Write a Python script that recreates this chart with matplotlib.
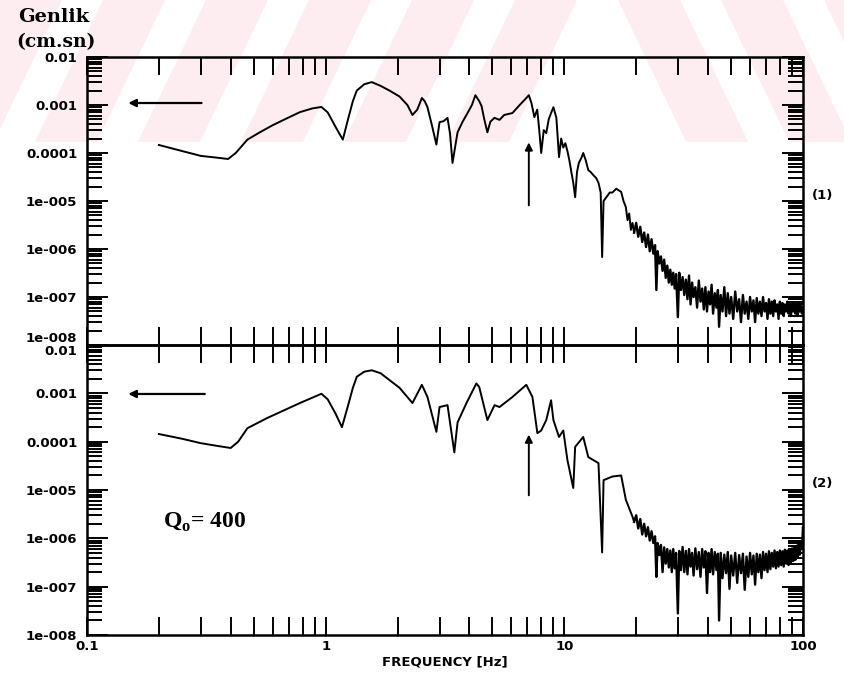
import numpy as np
import matplotlib
matplotlib.use('Agg')
import matplotlib.pyplot as plt
from matplotlib.ticker import LogLocator, NullFormatter
from matplotlib.patches import Polygon, Rectangle

plt.rcParams['mathtext.fontset'] = 'custom'
plt.rcParams['mathtext.rm'] = 'Liberation Serif:bold'
plt.rcParams['mathtext.bf'] = 'Liberation Serif:bold'

# ---------------- DATA ----------------
# panel (1): 0.2 - 20 Hz
f_lo1 = [0.20, 0.25, 0.30, 0.35, 0.39, 0.42, 0.47, 0.53, 0.60, 0.70,
         0.78, 0.88, 0.96, 1.02, 1.10, 1.18, 1.24, 1.30, 1.35, 1.45,
         1.56, 1.70, 1.85, 2.04, 2.20, 2.31, 2.42, 2.53, 2.60, 2.67,
         2.78, 2.91, 3.00, 3.12, 3.24, 3.32, 3.40, 3.50, 3.57, 3.75,
         3.93, 4.10, 4.24, 4.40, 4.50, 4.62, 4.76, 4.90, 5.10, 5.35,
         5.60, 6.06, 6.50, 6.93, 7.10, 7.28, 7.49, 7.70, 7.85, 8.00,
         8.20, 8.40, 8.60, 8.80, 9.00, 9.26, 9.50, 9.70, 9.90, 10.1,
         10.3, 10.5, 10.7, 10.9, 11.1, 11.3, 11.5, 11.8, 12.0, 12.3,
         12.6, 12.9, 13.2, 13.6, 13.9, 14.2, 14.4, 14.6, 15.0, 15.5,
         15.9, 16.5, 17.3, 17.7, 18.1, 18.4, 18.7, 19.0, 19.3, 19.6]
a_lo1 = [1.47e-4, 1.10e-4, 8.7e-5, 8.0e-5, 7.5e-5, 1.0e-4, 1.9e-4, 2.7e-4, 3.8e-4, 5.5e-4,
         7.1e-4, 8.5e-4, 9.1e-4, 7.0e-4, 3.5e-4, 1.9e-4, 5.0e-4, 1.2e-3, 2.0e-3, 2.7e-3,
         3.0e-3, 2.5e-3, 2.0e-3, 1.5e-3, 1.0e-3, 6.2e-4, 8.0e-4, 1.4e-3, 1.2e-3, 9.0e-4,
         4.0e-4, 1.5e-4, 4.4e-4, 4.6e-4, 5.4e-4, 2.5e-4, 6.2e-5, 1.5e-4, 2.7e-4, 4.5e-4,
         6.8e-4, 1.0e-3, 1.6e-3, 1.2e-3, 9.5e-4, 5.0e-4, 2.7e-4, 4.5e-4, 5.4e-4, 4.9e-4,
         6.2e-4, 6.8e-4, 1.0e-3, 1.4e-3, 1.6e-3, 1.1e-3, 5.6e-4, 8.0e-4, 3.0e-4, 1.0e-4,
         3.0e-4, 2.6e-4, 5.0e-4, 6.8e-4, 9.0e-4, 5.4e-4, 8.2e-5, 2.0e-4, 1.3e-4, 1.6e-4,
         1.1e-4, 7.0e-5, 4.0e-5, 2.4e-5, 1.2e-5, 4.0e-5, 6.2e-5, 8.0e-5, 1.0e-4, 7.0e-5,
         4.4e-5, 4.0e-5, 3.5e-5, 3.0e-5, 2.4e-5, 1.5e-5, 6.8e-7, 1.0e-5, 1.2e-5, 1.5e-5,
         1.5e-5, 1.8e-5, 1.55e-5, 1.0e-5, 7.5e-6, 4.0e-6, 5.5e-6, 2.5e-6, 3.5e-6, 2.2e-6]

# panel (2): 0.2 - 20 Hz
f_lo2 = [0.20, 0.25, 0.30, 0.35, 0.40, 0.43, 0.47, 0.57, 0.78, 0.96,
         1.02, 1.10, 1.17, 1.24, 1.30, 1.35, 1.45, 1.56, 1.70, 2.04,
         2.31, 2.53, 2.67, 2.91, 3.00, 3.24, 3.46, 3.57, 3.89, 4.28,
         4.40, 4.76, 5.10, 5.35, 6.06, 6.93, 7.35, 7.71, 8.00, 8.40,
         8.80, 9.00, 9.50, 9.90, 10.3, 10.9, 11.1, 12.0, 12.6, 13.9,
         14.4, 14.6, 15.9, 17.3, 18.1, 19.3, 19.6]
a_lo2 = [1.44e-4, 1.15e-4, 9.3e-5, 8.2e-5, 7.4e-5, 1.0e-4, 1.9e-4, 3.1e-4, 6.3e-4, 9.8e-4,
         7.5e-4, 3.8e-4, 2.0e-4, 5.5e-4, 1.3e-3, 2.2e-3, 2.8e-3, 3.0e-3, 2.6e-3, 1.3e-3,
         6.3e-4, 1.5e-3, 8.4e-4, 1.6e-4, 5.2e-4, 5.7e-4, 6.0e-5, 2.5e-4, 6.3e-4, 1.6e-3,
         1.35e-3, 2.8e-4, 5.7e-4, 5.2e-4, 8.4e-4, 1.5e-3, 8.4e-4, 1.5e-4, 1.7e-4, 2.8e-4,
         7.2e-4, 2.8e-4, 1.25e-4, 1.7e-4, 4.2e-5, 1.1e-5, 7.8e-5, 1.25e-4, 4.8e-5, 3.6e-5,
         5.1e-7, 1.6e-5, 1.9e-5, 2.0e-5, 6.3e-6, 2.8e-6, 2.2e-6]

# 20 - 100 Hz (noisy part), shared frequencies
f_hi = [20.0, 20.4, 20.8, 21.2, 21.6, 22.0, 22.4, 22.8, 23.2, 23.6,
        24.0, 24.3, 24.6, 25.0, 25.4, 25.8, 26.2, 26.6, 27.0, 27.4,
        27.8, 28.2, 28.6, 29.0, 29.4, 29.9, 30.3, 30.8, 31.3, 31.8,
        32.3, 32.8, 33.3, 33.8, 34.3, 34.8, 35.4, 36.0, 36.6, 37.2,
        37.8, 38.4, 39.0, 39.6, 40.2, 40.8, 41.4, 42.0, 42.7, 43.4,
        44.0, 44.5, 45.2, 46.0, 46.8, 47.6, 48.4, 49.2, 50.0, 51.0,
        52.0, 53.0, 54.0, 55.0, 56.0, 57.0, 58.0, 59.0, 60.0, 61.0,
        62.0, 63.0, 64.0, 65.0, 66.0, 67.0, 68.0, 69.0, 70.0, 71.0,
        72.0, 73.0, 74.0, 75.0, 76.0, 77.0, 78.0, 79.0, 80.0, 81.0,
        82.0, 83.0, 84.0, 85.0, 86.0, 87.0, 88.0, 89.0, 90.0, 91.0,
        92.0, 93.0, 94.0, 95.0, 96.0, 97.0, 98.0, 99.0, 100.0]
# amplitudes in units of 1e-7
a_hi1 = [35, 18, 29, 14, 22, 11, 20, 9, 16, 8,
         12, 1.4, 9, 5, 7, 3.5, 6, 2.5, 4.5, 2,
         3.7, 1.8, 3.2, 1.5, 3.0, 0.38, 3.2, 1.4, 2.6, 1.1,
         2.3, 0.9, 2.8, 0.7, 2.0, 1.0, 1.6, 0.6, 2.2, 0.8,
         1.5, 0.55, 1.6, 0.5, 1.3, 0.7, 1.8, 0.45, 1.2, 0.6,
         1.4, 0.24, 1.1, 0.5, 1.6, 0.4, 1.2, 0.45, 1.0, 0.35,
         1.3, 0.5, 0.9, 0.3, 1.1, 0.45, 0.8, 0.35, 1.0, 0.5,
         0.85, 0.3, 0.95, 0.45, 0.8, 0.4, 1.0, 0.5, 0.75, 0.35,
         0.9, 0.45, 0.8, 0.4, 0.85, 0.5, 0.7, 0.35, 0.8, 0.45,
         0.75, 0.4, 0.7, 0.5, 0.8, 0.45, 0.7, 0.4, 0.75, 0.5,
         0.7, 0.45, 0.65, 0.4, 0.7, 0.5, 0.65, 0.45, 0.6]
a_hi2 = [30, 16, 25, 12, 20, 11, 17, 9, 14, 8,
         11, 1.6, 8, 4.5, 7.3, 2.0, 6.5, 3.0, 6.0, 2.5,
         5.6, 2.0, 6.0, 2.4, 5.0, 0.28, 5.5, 2.2, 6.6, 2.0,
         5.5, 1.8, 6.0, 2.6, 5.0, 1.7, 6.2, 2.3, 5.2, 1.6,
         6.0, 2.5, 5.4, 0.74, 5.0, 2.0, 6.0, 1.8, 5.2, 2.2,
         4.8, 0.2, 5.0, 1.5, 4.6, 1.9, 5.2, 0.9, 4.4, 1.7,
         5.0, 1.2, 4.5, 1.9, 4.8, 0.86, 4.2, 1.6, 5.0, 1.8,
         4.4, 1.1, 4.8, 2.0, 4.6, 1.5, 5.2, 2.2, 4.8, 2.0,
         5.4, 2.3, 5.0, 2.6, 5.6, 2.4, 5.2, 2.6, 5.6, 2.8,
         5.4, 2.6, 5.8, 3.0, 5.6, 2.8, 6.0, 3.2, 6.2, 3.4,
         6.4, 3.6, 7.0, 4.0, 7.6, 4.6, 8.8, 6.0, 17]

ytick_vals = [1e-8, 1e-7, 1e-6, 1e-5, 1e-4, 1e-3, 1e-2]
ytick_labels = ['1e-008', '1e-007', '1e-006', '1e-005', '0.0001', '0.001', '0.01']
xtick_vals = [0.1, 1, 10, 100]
xtick_labels = ['0.1', '1', '10', '100']

hi1 = np.array(a_hi1) * 1e-7
hi2 = np.array(a_hi2) * 1e-7

# ---------------- FIGURE ----------------
W, H = 844, 679
fig = plt.figure(figsize=(W / 100, H / 100), dpi=100)


def px(x0, y0, x1, y1):
    return [x0 / W, 1 - y1 / H, (x1 - x0) / W, (y1 - y0) / H]


# faint pink diagonal watermark at the top (behind everything)
band = Rectangle((0, 1 - 142 / H), 1, 142 / H, transform=fig.transFigure, visible=False)
P, PINK, S = 103, 62, 0.48
for k in range(-2, 12):
    xt = k * P
    if xt < 600:
        pts = [(xt, 0), (xt + PINK, 0), (xt + PINK - 142 * S, 142), (xt - 142 * S, 142)]
    else:
        pts = [(xt, 0), (xt + PINK, 0), (xt + PINK + 142 * S, 142), (xt + 142 * S, 142)]
    poly = Polygon([(x / W, 1 - y / H) for x, y in pts], closed=True,
                   transform=fig.transFigure, facecolor='#fdedf0', edgecolor='none', zorder=-10)
    poly.set_clip_path(band)
    fig.patches.append(poly)

ax1 = fig.add_axes(px(87, 57, 803, 345))
ax2 = fig.add_axes(px(87, 345, 803, 635))

tick_font = dict(family='DejaVu Sans', weight='bold', size=9.5)

for ax, fl, al, ah in [(ax1, f_lo1, a_lo1, hi1), (ax2, f_lo2, a_lo2, hi2)]:
    ax.set_xscale('log')
    ax.set_yscale('log')
    ax.plot(fl, al, color='black', lw=1.4, zorder=3)
    # noisy high-frequency part drawn a bit heavier, joined to the last low point
    ax.plot([fl[-1]] + f_hi, [al[-1]] + list(ah), color='black', lw=1.7, zorder=3)
    ax.set_xlim(0.1, 100)
    ax.set_ylim(1e-8, 1e-2)
    ax.patch.set_alpha(0)
    for sp in ax.spines.values():
        sp.set_linewidth(1.8)
    ax.xaxis.set_minor_locator(LogLocator(base=10, subs=np.arange(2, 10), numticks=50))
    ax.yaxis.set_minor_locator(LogLocator(base=10, subs=np.arange(2, 10), numticks=50))
    ax.xaxis.set_minor_formatter(NullFormatter())
    ax.yaxis.set_minor_formatter(NullFormatter())
    ax.tick_params(which='both', direction='in', top=True, right=True, width=1.4, colors='black')
    ax.tick_params(axis='x', which='both', length=13)
    ax.tick_params(axis='y', which='major', length=15, pad=7)
    ax.tick_params(axis='y', which='minor', length=11)
    ax.set_yticks(ytick_vals)
    ax.set_yticklabels(ytick_labels, fontdict=tick_font)
    ax.set_xticks(xtick_vals)

ax1.set_xticklabels([])
ax2.set_xticklabels(xtick_labels, fontdict=tick_font)
ax1.get_yticklabels()[0].set_va('bottom')
ax2.get_yticklabels()[-1].set_va('top')

# arrows
for ax, yl, xs in [(ax1, 1.1e-3, 0.31), (ax2, 9.7e-4, 0.32)]:
    ax.annotate('', xy=(0.145, yl), xytext=(xs, yl),
                arrowprops=dict(arrowstyle='-|>', lw=1.6, color='black', mutation_scale=11))
ax1.annotate('', xy=(7.1, 1.9e-4), xytext=(7.1, 7.1e-6),
             arrowprops=dict(arrowstyle='-|>', lw=1.4, color='black', mutation_scale=11))
ax2.annotate('', xy=(7.1, 1.6e-4), xytext=(7.1, 6.8e-6),
             arrowprops=dict(arrowstyle='-|>', lw=1.4, color='black', mutation_scale=11))

# texts
fig.text(18 / W, 1 - 17 / H, 'Genlik', family='DejaVu Serif', weight='bold', size=14,
         va='center', ha='left')
fig.text(16 / W, 1 - 42 / H, '(cm.sn)', family='DejaVu Serif', weight='bold', size=13.5,
         va='center', ha='left')
fig.text(812 / W, 1 - 196 / H, '(1)', va='center', ha='left', **tick_font)
fig.text(812 / W, 1 - 483 / H, '(2)', va='center', ha='left', **tick_font)
fig.text(445 / W, 1 - 662 / H, 'FREQUENCY [Hz]', va='center', ha='center', **tick_font)
fig.text(163 / W, 1 - 522 / H, r'Q$_{\mathrm{o}}$= 400', family='Liberation Serif',
         weight='bold', size=17, va='center', ha='left')

fig.savefig('out.png', dpi=100)
